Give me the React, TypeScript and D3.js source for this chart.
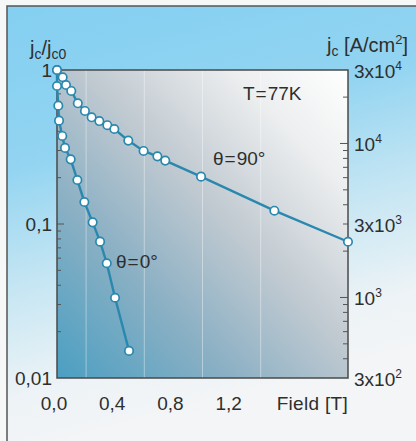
import React from "react";
import * as d3 from "d3";

const field90 = [0.0, 0.039, 0.062, 0.098, 0.143, 0.192, 0.238, 0.291, 0.346, 0.394, 0.49, 0.595, 0.69, 0.744, 0.99, 1.494, 2.0];
const ratio90 = [1.0, 0.897, 0.799, 0.731, 0.608, 0.542, 0.493, 0.466, 0.438, 0.414, 0.348, 0.298, 0.275, 0.258, 0.203, 0.122, 0.0767];
const field0 = [0.0, 0.0, 0.009, 0.014, 0.036, 0.055, 0.094, 0.14, 0.188, 0.245, 0.296, 0.342, 0.399, 0.495];
const ratio0 = [1.0, 0.787, 0.587, 0.469, 0.373, 0.312, 0.263, 0.193, 0.139, 0.1025, 0.0768, 0.0556, 0.0332, 0.015];

const xTickValues = [0, 0.4, 0.8, 1.2];
const xTickLabels = ["0,0", "0,4", "0,8", "1,2"];
const gridValues = [0.2, 0.6, 1.0, 1.4];
const leftTickValues = [1, 0.1, 0.01];
const leftTickLabels = ["1", "0,1", "0,01"];
const rightTickValues = [30000, 10000, 3000, 1000, 300];
const rightTickMant = ["3x10", "10", "3x10", "10", "3x10"];
const rightTickExp = ["4", "4", "3", "3", "2"];

const W = 416, H = 441;
const L = 57, R = 348, T = 70, B = 378;
const LINE = "#2a88ae";
const TXT = "#2e2e2e";
const FONT = "'Liberation Sans', Arial, Helvetica, sans-serif";

export default function App() {
  const x = d3.scaleLinear().domain([0, 2]).range([L, R]);
  const y = d3.scaleLog().domain([0.01, 1]).range([B, T]);
  const yR = d3.scaleLog().domain([300, 30000]).range([B, T]);

  const mk = d3.line<[number, number]>().x((d) => x(d[0])).y((d) => y(d[1]));
  const path90 = mk(field90.map((f, i) => [f, ratio90[i]]) as [number, number][]);
  const path0 = mk(field0.map((f, i) => [f, ratio0[i]]) as [number, number][]);

  const leftMinor: number[] = [];
  for (const dec of [0.01, 0.1]) for (let k = 2; k <= 9; k++) leftMinor.push(dec * k);
  const rightMinor: number[] = [];
  for (const dec of [100, 1000, 10000]) for (let k = 1; k <= 9; k++) {
    const v = dec * k;
    if (v > 300 && v < 30000 && v !== 1000 && v !== 10000) rightMinor.push(v);
  }

  return (
    <svg width={W} height={H} style={{ position: "absolute", left: 0, top: 0 }} fontFamily={FONT}>
      <defs>
        <linearGradient id="outer" x1="0" y1="0" x2="0.25" y2="1">
          <stop offset="0" stopColor="#84cff1" />
          <stop offset="0.35" stopColor="#92d4f1" />
          <stop offset="0.6" stopColor="#c3e5f3" />
          <stop offset="0.85" stopColor="#edf3f6" />
          <stop offset="1" stopColor="#f4f5f6" />
        </linearGradient>
        <linearGradient id="plotbg" x1="0" y1="1" x2="1" y2="0">
          <stop offset="0" stopColor="#4a9fc2" />
          <stop offset="0.3" stopColor="#8bb0c4" />
          <stop offset="0.55" stopColor="#c1cad1" />
          <stop offset="0.8" stopColor="#eceeef" />
          <stop offset="1" stopColor="#ffffff" />
        </linearGradient>
      </defs>
      <rect x={0} y={0} width={W} height={H} fill="#f6f7f7" />
      <rect x={7} y={6} width={W - 7} height={H - 6} fill="url(#outer)" />
      <path d={`M7,${H} L7,6 L${W},6`} fill="none" stroke="#555" strokeWidth={1.5} />

      <rect x={L} y={T} width={R - L} height={B - T} fill="url(#plotbg)" />
      {gridValues.map((g) => (
        <line key={g} x1={x(g)} x2={x(g)} y1={T} y2={B} stroke="#ffffff" strokeOpacity={0.4} strokeWidth={1} />
      ))}
      <rect x={L} y={T} width={R - L} height={B - T} fill="none" stroke="#4a4a4a" strokeWidth={1.5} />

      {leftMinor.map((v) => (
        <line key={"lm" + v} x1={L} x2={L + 4} y1={y(v)} y2={y(v)} stroke="#555" strokeWidth={1} />
      ))}
      <line x1={L} x2={L + 7} y1={y(0.1)} y2={y(0.1)} stroke="#555" strokeWidth={1} />
      {rightMinor.map((v) => (
        <line key={"rm" + v} x1={R} x2={R - 5} y1={yR(v)} y2={yR(v)} stroke="#555" strokeWidth={1} />
      ))}
      {[1000, 10000].map((v) => (
        <line key={"rM" + v} x1={R} x2={R - 8} y1={yR(v)} y2={yR(v)} stroke="#555" strokeWidth={1} />
      ))}

      <path d={path0 || ""} fill="none" stroke={LINE} strokeWidth={2.4} />
      <path d={path90 || ""} fill="none" stroke={LINE} strokeWidth={2.4} />
      {field0.map((f, i) => (
        <circle key={"c0" + i} cx={x(f)} cy={y(ratio0[i])} r={4.2} fill="#fff" stroke={LINE} strokeWidth={1.7} />
      ))}
      {field90.map((f, i) => (
        <circle key={"c9" + i} cx={x(f)} cy={y(ratio90[i])} r={4.2} fill="#fff" stroke={LINE} strokeWidth={1.7} />
      ))}

      {leftTickValues.map((v, i) => (
        <text key={"lt" + v} x={52} y={y(v) + 7} textAnchor="end" fontSize={19} fill={TXT}>{leftTickLabels[i]}</text>
      ))}
      {rightTickValues.map((v, i) => (
        <text key={"rt" + v} x={354} y={yR(v) + 8} fontSize={19} fill={TXT}>
          {rightTickMant[i]}
          <tspan dy={-8} fontSize={12}>{rightTickExp[i]}</tspan>
        </text>
      ))}
      {xTickValues.map((v, i) => (
        <text key={"xt" + v} x={x(v) - 3} y={410} textAnchor="middle" fontSize={19} fill={TXT}>{xTickLabels[i]}</text>
      ))}
      <text x={348} y={410} textAnchor="end" fontSize={19} fill={TXT} letterSpacing={0.3}>Field [T]</text>

      <text x={30} y={55} fontSize={20} fill={TXT}>
        j<tspan dy={4} fontSize={14}>c</tspan><tspan dy={-4}>/j</tspan><tspan dy={4} fontSize={14}>c0</tspan>
      </text>
      <text x={408} y={52} textAnchor="end" fontSize={20} fill={TXT}>
        j<tspan dy={4} fontSize={14}>c</tspan><tspan dy={-4}> [A/cm</tspan><tspan dy={-8} fontSize={13}>2</tspan><tspan dy={8}>]</tspan>
      </text>

      <text x={243} y={100} fontSize={19} fill={TXT}>T<tspan dx={1}>=</tspan><tspan dx={1}>77K</tspan></text>
      <text x={213} y={165} fontSize={19} fill={TXT}>θ<tspan dx={1}>=</tspan><tspan dx={1}>90°</tspan></text>
      <text x={116} y={268} fontSize={19} fill={TXT}>θ<tspan dx={1}>=</tspan><tspan dx={1}>0°</tspan></text>
    </svg>
  );
}
